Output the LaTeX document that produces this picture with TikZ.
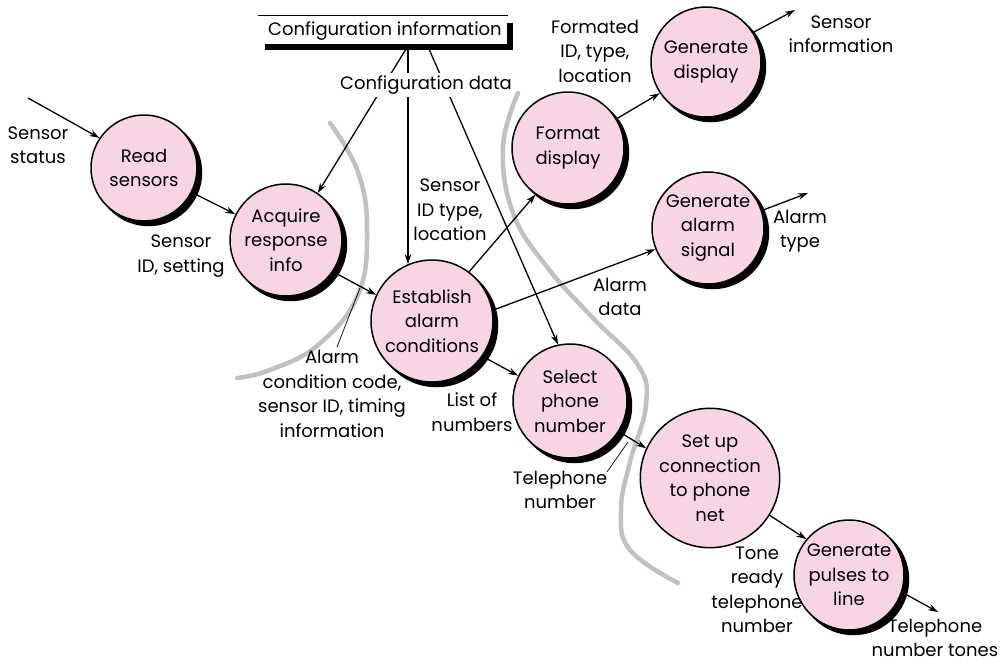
\documentclass[tikz,border=0pt]{standalone}
\usepackage{fontspec}
\setmainfont{Poppins}
\usetikzlibrary{arrows.meta}
\definecolor{pinkfill}{RGB}{248,213,229}
\definecolor{curvegray}{RGB}{192,192,197}
\newcommand\procnode[4]{%
  \node[shadowdisc=#3, xshift=4.5pt, yshift=-4.5pt] (#1-sh) at (#2) {};
  \node[proc=#3] (#1) at (#2) {#4};}
\begin{document}
\begin{tikzpicture}[x=1pt,y=-1pt,
  txt/.style={font=\fontsize{18}{24.5}\selectfont, align=center, inner sep=1pt},
  proc/.style={circle, draw=black, line width=1.5pt, fill=pinkfill, minimum size=2*#1 pt, inner sep=0pt,
     align=center, font=\fontsize{18}{24.5}\selectfont},
  shadowdisc/.style={circle, draw=black, line width=1.5pt, fill=black, minimum size=2*#1 pt, inner sep=0pt},
  flow/.style={line width=1.3pt, -{Stealth[length=10pt,width=6.5pt]}},
  leader/.style={line width=0.7pt},
  sep/.style={draw=curvegray, line width=4.5pt, line cap=round}
]
\useasboundingbox (0,0) rectangle (1001,665);

% separator curves
\draw[sep] plot[smooth, tension=0.7] coordinates {(330,123) (358,172) (367,230) (358,295) (318,345) (270,370) (237,378)};
\draw[sep] plot[smooth, tension=0.7] coordinates {(518,93) (503,147) (513,213) (547,267) (592,317) (638,365) (646,405) (630,462) (621,510) (630,550) (678,583)};

% data store
\node[txt, inner sep=0pt] (cfg) at (385,31) {Configuration information};
\draw[line width=0.9pt] (258,15) -- (508,15);
\draw[line width=6pt] (265,47) -- (510,47) -- (510,23);

% processes
\procnode{rs}{144,168}{53}{Read\\sensors}
\procnode{ar}{286,240}{56}{Acquire\\response\\info}
\procnode{ea}{432,321}{61}{Establish\\alarm\\conditions}
\procnode{fd}{568,148}{56}{Format\\display}
\procnode{gd}{706,62}{55}{Generate\\display}
\procnode{gas}{708,228}{56}{Generate\\alarm\\signal}
\procnode{sp}{570,401}{57}{Select\\phone\\number}
\procnode{su}{710,478}{57}{\raisebox{-10pt}{\parbox{110pt}{\centering Set up\\connection\\to phone\\net}}}
\procnode{gp}{849,575}{55}{Generate\\pulses to\\line}

% free ends
\coordinate (inS) at (28,98);
\coordinate (outSI) at (795,10);
\coordinate (outAT) at (808,193);
\coordinate (outTT) at (938,612);
\coordinate (c1) at (406,49);
\coordinate (c2) at (408,49);
\coordinate (c3) at (429,49);

% config flows
\draw[flow] (c1) -- (ar.56);
\draw[flow] (c2) -- (c2 |- ea.113);
\draw[flow] (c3) -- (sp.102);
\node[txt, fill=white, inner sep=2.5pt] (cd) at (426,85) {Configuration data};

% flows
\draw[flow] (inS) -- (rs.146);
\draw[flow] (rs.-27) -- (ar.153);
\draw[flow] (ar.-34) -- (ea.155);
\draw[flow] (ea.-35) -- (sp.154);
\draw[flow] (sp.-32) -- (su.155);
\draw[flow] (su.-32) -- (gp.140);
\draw[flow] (gp.-18) -- (outTT);
\draw[flow] (ea.53) -- (fd.-125);
\draw[flow] (fd.31) -- (gd.-146);
\draw[flow] (gd.32) -- (outSI);
\draw[flow] (ea.10) -- (gas.-158);
\draw[flow] (gas.18) -- (outAT);

% labels
\node[txt] (lSS) at (38,145) {Sensor\\status};
\node[txt] (lSID) at (181,256) {Sensor\\ID, setting};
\node[txt] (lAC) at (332,394) {Alarm\\condition code,\\sensor ID, timing\\information};
\node[txt] (lSIT) at (450,210) {Sensor\\ID type,\\location};
\node[txt] (lFID) at (595,51) {Formated\\ID, type,\\location};
\node[txt] (lSI) at (841,34) {Sensor\\information};
\node[txt] (lAD) at (620,297) {Alarm\\data};
\node[txt] (lAT) at (800,231) {Alarm\\type};
\node[txt] (lLN) at (472,412) {List of\\numbers};
\node[txt] (lTN) at (560,490) {Telephone\\number};
\node[txt] (lTR) at (757,590) {Tone\\ready\\telephone\\number};
\node[txt] (lTT) at (935,638) {Telephone\\number tones};

% leader lines
\coordinate (k1) at (360,288);
\coordinate (k1e) at (337,347);
\coordinate (k2) at (628,442);
\coordinate (k2e) at (607,472);
\draw[leader] (k1) -- (k1e);
\draw[leader] (k2) -- (k2e);
\end{tikzpicture}
\end{document}
